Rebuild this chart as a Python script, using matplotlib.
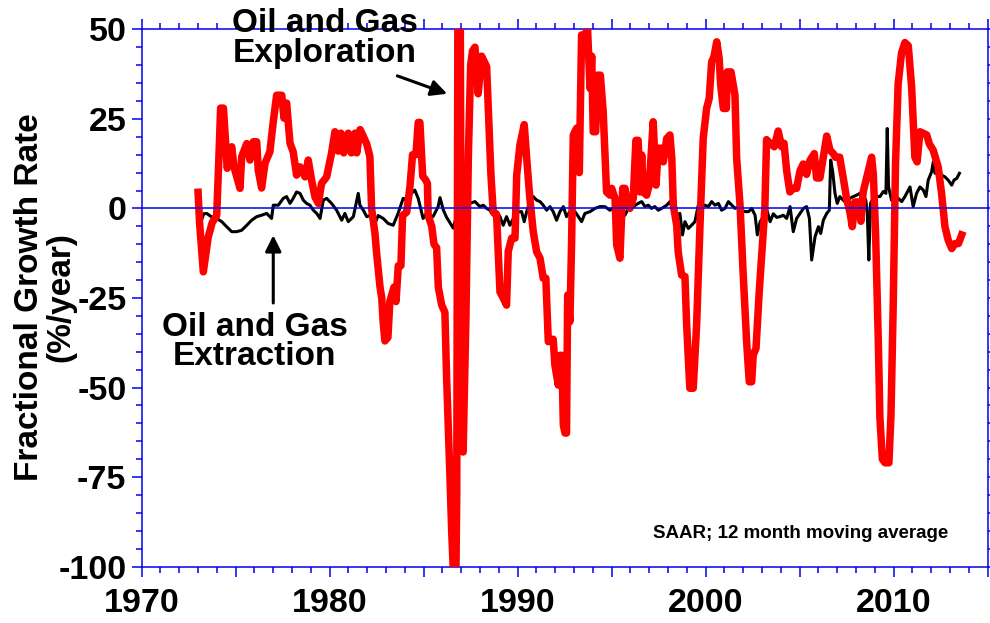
import matplotlib
matplotlib.use("Agg")
import matplotlib.pyplot as plt
from matplotlib.ticker import MultipleLocator, FuncFormatter

plt.rcParams.update({
    "font.family": ["Liberation Sans", "DejaVu Sans"],
    "font.weight": "bold",
    "axes.unicode_minus": False,
})

# Oil and gas exploration (red), 12-month moving average, %/year
expl_years = [
    1973.0, 1973.08, 1973.28, 1973.54, 1973.75, 1973.99, 1974.1, 1974.2, 1974.35,
    1974.55, 1974.79, 1974.91, 1975.23, 1975.32, 1975.59, 1975.76, 1975.94, 1976.12,
    1976.2, 1976.38, 1976.56, 1976.82, 1977.0, 1977.18, 1977.45, 1977.57, 1977.71,
    1977.89, 1978.06, 1978.24, 1978.42, 1978.69, 1978.86, 1979.04, 1979.22, 1979.4,
    1979.57, 1979.84, 1980.1, 1980.28, 1980.46, 1980.6, 1980.75, 1980.99, 1981.15,
    1981.35, 1981.44, 1981.62, 1981.8, 1981.97, 1982.14, 1982.23, 1982.41, 1982.5,
    1982.68, 1982.77, 1982.85, 1982.94, 1983.1, 1983.2, 1983.42, 1983.53, 1983.65,
    1983.79, 1983.88, 1984.1, 1984.27, 1984.41, 1984.59, 1984.71, 1984.8, 1984.95,
    1985.1, 1985.2, 1985.24, 1985.43, 1985.55, 1985.69, 1985.78, 1985.96, 1986.13,
    1986.22, 1986.4, 1986.49, 1986.57, 1986.72, 1986.76, 1986.82, 1986.95, 1987.02,
    1987.1, 1987.25, 1987.38, 1987.5, 1987.6, 1987.73, 1987.9, 1988.08, 1988.35,
    1988.44, 1988.58, 1988.7, 1988.88, 1989.06, 1989.23, 1989.41, 1989.5, 1989.68,
    1989.86, 1989.95, 1990.12, 1990.35, 1990.48, 1990.65, 1990.83, 1991.01, 1991.19,
    1991.36, 1991.5, 1991.63, 1991.89, 1991.98, 1992.16, 1992.25, 1992.35, 1992.43,
    1992.52, 1992.6, 1992.66, 1992.78, 1992.87, 1992.96, 1993.14, 1993.28, 1993.4,
    1993.56, 1993.72, 1993.85, 1993.94, 1994.02, 1994.15, 1994.26, 1994.4, 1994.55,
    1994.73, 1994.91, 1995.0, 1995.18, 1995.27, 1995.44, 1995.59, 1995.71, 1995.83,
    1995.97, 1996.15, 1996.29, 1996.41, 1996.5, 1996.6, 1996.68, 1996.86, 1997.0,
    1997.21, 1997.36, 1997.48, 1997.66, 1997.75, 1997.93, 1998.1, 1998.2, 1998.28,
    1998.46, 1998.54, 1998.72, 1998.9, 1998.99, 1999.16, 1999.34, 1999.52, 1999.7,
    1999.87, 2000.05, 2000.19, 2000.32, 2000.44, 2000.59, 2000.72, 2000.8, 2000.94,
    2001.1, 2001.15, 2001.35, 2001.56, 2001.65, 2001.83, 2002.0, 2002.18, 2002.32,
    2002.45, 2002.53, 2002.68, 2002.85, 2003.03, 2003.15, 2003.24, 2003.42, 2003.65,
    2003.86, 2004.04, 2004.17, 2004.31, 2004.48, 2004.66, 2004.84, 2005.02, 2005.19,
    2005.37, 2005.55, 2005.78, 2005.9, 2006.08, 2006.2, 2006.44, 2006.61, 2006.79,
    2006.9, 2007.13, 2007.32, 2007.5, 2007.68, 2007.8, 2007.94, 2008.1, 2008.26,
    2008.38, 2008.56, 2008.83, 2008.92, 2009.04, 2009.18, 2009.27, 2009.4, 2009.54,
    2009.75, 2009.86, 2009.98, 2010.1, 2010.24, 2010.42, 2010.6, 2010.78, 2010.96,
    2011.13, 2011.25, 2011.4, 2011.76, 2011.9, 2012.1, 2012.37, 2012.55, 2012.73,
    2012.9, 2013.09, 2013.27, 2013.45, 2013.62,
]
expl_vals = [
    4.5, -4, -17.7, -8, -4, -2, 13, 28, 28,
    11.2, 17.2, 11.6, 5.6, 14.4, 18.1, 13.5, 18.6, 18.6,
    10.7, 5.7, 12.6, 15.8, 24.2, 31.6, 31.6, 25.2, 29.4,
    18.2, 15.8, 9.3, 11.6, 8.8, 13.5, 7.9, 3.2, 1.4,
    7, 8.8, 15.4, 21.4, 16, 21, 15.5, 21, 15.5,
    21, 15.5, 22, 20, 18, 14.5, 0, -7, -12.6,
    -22, -25, -32, -37, -36, -26, -22, -26, -16,
    -16, -2, -1, 6, 15, 15, 24, 24, 9,
    8, 7, -2, -5, -10, -11, -22, -27, -29,
    -47, -75, -90, -100, -100, -80, 52, 52, -65,
    -68, -30, 15, 40, 44, 45, 32, 42.5, 39.6,
    28, 9.3, -1, -1.7, -23.3, -25, -27, -12, -8.3,
    -8.3, 9.3, 17.7, 23.4, 14, 2.8, -6.5, -12.1, -13.9,
    -19.5, -19.5, -37.2, -36.5, -43.7, -49.3, -41, -41, -60.5,
    -62.7, -62.7, -24.2, -31.6, -9.3, 20.5, 22.4, 10, 48.4,
    48.4, 50, 33.5, 42.5, 21.4, 21.4, 37.2, 37.2, 27,
    4.6, 3.7, 5.6, 2.8, -10.2, -13.9, 5.6, 5.6, 1.9,
    0, 2.8, 19, 19, 4.6, 14.9, 4.6, 3.7, 6.5,
    24.2, 6.5, 16.8, 16.8, 13, 19.5, 20.5, 14, 0.9,
    -4.7, -12.1, -18.6, -19, -32.6, -50.2, -50.2, -32.6, -4.7,
    19.5, 27.9, 30.7, 40.9, 42.3, 46.5, 41.9, 34.4, 27.9,
    27.9, 38.1, 38.1, 31.6, 14, 0.9, -18.6, -37.2, -48.4,
    -48.4, -41, -39, -23.3, -9.3, 0, 19.2, 18.2, 17.2,
    21.6, 17.2, 18.2, 10.5, 4.6, 5.6, 5.6, 10.5, 12.4,
    9.5, 13.4, 15.3, 8.5, 8.5, 12.4, 20.2, 16.3, 15.3,
    14.3, 14.3, 8.5, 2.7, -1.2, -5.1, 1.8, 1.8, -3.6,
    4.6, 8.5, 14.3, 9.5, -7, -36, -58.4, -70, -71,
    -71, -57.4, -26.4, 12.4, 34.7, 43.4, 46.3, 45.4, 33.7,
    14.3, 13, 21.4, 20.5, 18, 16.3, 11.6, 4.2, -5.1,
    -8.8, -11.2, -9.8, -9.8, -7.4,
]

# Oil and gas extraction (black)
extr_years = [
    1973.2, 1973.3, 1973.46, 1973.7, 1973.99, 1974.26, 1974.52, 1974.79, 1975.05,
    1975.32, 1975.59, 1975.85, 1976.12, 1976.38, 1976.65, 1976.91, 1977.0, 1977.27,
    1977.53, 1977.71, 1977.89, 1978.06, 1978.24, 1978.42, 1978.6, 1978.77, 1978.95,
    1979.13, 1979.31, 1979.49, 1979.66, 1979.84, 1980.1, 1980.37, 1980.64, 1980.81,
    1980.99, 1981.26, 1981.52, 1981.61, 1981.79, 1981.97, 1982.14, 1982.41, 1982.58,
    1982.85, 1983.11, 1983.38, 1983.64, 1983.91, 1984.09, 1984.35, 1984.53, 1984.71,
    1984.97, 1985.15, 1985.33, 1985.5, 1985.77, 1985.87, 1986.05, 1986.22, 1986.4,
    1986.57, 1986.7, 1986.83, 1987.0, 1987.29, 1987.5, 1987.73, 1987.99, 1988.17,
    1988.35, 1988.53, 1988.7, 1988.88, 1989.06, 1989.23, 1989.41, 1989.59, 1989.77,
    1989.95, 1990.21, 1990.35, 1990.48, 1990.65, 1990.83, 1991.01, 1991.19, 1991.36,
    1991.54, 1991.72, 1991.89, 1992.07, 1992.25, 1992.43, 1992.6, 1992.78, 1993.05,
    1993.23, 1993.4, 1993.58, 1993.85, 1994.11, 1994.38, 1994.64, 1994.91, 1995.18,
    1995.44, 1995.71, 1995.88, 1996.15, 1996.41, 1996.6, 1996.77, 1996.95, 1997.12,
    1997.3, 1997.48, 1997.66, 1997.93, 1998.1, 1998.28, 1998.46, 1998.63, 1998.77,
    1998.9, 1999.08, 1999.25, 1999.43, 1999.61, 1999.79, 1999.97, 2000.14, 2000.32,
    2000.5, 2000.68, 2000.85, 2001.03, 2001.21, 2001.39, 2001.56, 2001.74, 2001.92,
    2002.1, 2002.28, 2002.45, 2002.63, 2002.75, 2002.9, 2003.08, 2003.26, 2003.43,
    2003.6, 2003.78, 2003.95, 2004.13, 2004.31, 2004.49, 2004.66, 2004.84, 2005.02,
    2005.2, 2005.37, 2005.52, 2005.64, 2005.82, 2006.0, 2006.12, 2006.26, 2006.44,
    2006.58, 2006.65, 2006.76, 2006.88, 2007.0, 2007.14, 2007.32, 2007.5, 2007.67,
    2007.85, 2008.03, 2008.2, 2008.38, 2008.52, 2008.6, 2008.68, 2008.77, 2008.91,
    2009.09, 2009.27, 2009.45, 2009.59, 2009.66, 2009.73, 2009.89, 2010.07, 2010.25,
    2010.43, 2010.6, 2010.87, 2011.04, 2011.22, 2011.4, 2011.58, 2011.72, 2011.84,
    2012.02, 2012.11, 2012.2, 2012.37, 2012.55, 2012.73, 2012.9, 2013.09, 2013.21,
    2013.36, 2013.5,
]
extr_vals = [
    -3, -1.5, -1.4, -2.3, -2.8, -3.7, -5.1, -6.5, -6.5,
    -6.1, -4.7, -3.3, -2.3, -1.9, -1.4, -2.8, 0.9, 0.9,
    2.8, 3.3, 1.4, 2.8, 4.6, 4.2, 2.3, 1.4, 0.9,
    -0.5, -1.4, -2.8, 2.3, 2.8, 1.4, -0.5, -3.3, -1.4,
    -3.7, -2.3, 4.2, 0.9, -0.5, -2.3, -2, -4.2, -2,
    -2.8, -4.2, -4.7, -1.4, 2.8, 2.3, 4.2, 5.1, 2.8,
    -2.8, -1.4, -1.9, -2.3, 0.5, 3, -0.5, -2.5, -4,
    -5.5, -3, -1.5, 0.5, 1, 1.5, 1.9, 0.5, 0.9,
    0, -0.5, -1.9, -0.9, -2.3, -4.7, -2.3, -4.7, -2.8,
    -0.9, -0.9, -3.7, -0.9, 1.9, 3.3, 2.3, 1.9, 0.9,
    -0.5, 0.5, -0.9, -3.3, -0.9, 0.5, -2.3, -0.9, -0.9,
    -2.3, -3.7, -1.4, -0.9, 0, 0.5, 0.5, -0.5, 0.5,
    -0.9, -1.9, 0, 0.5, 1.4, 1.9, 0.5, 0.9, 0,
    0.5, -0.5, 0, 0.9, 1.9, -0.5, -1.9, -1.4, -7.4,
    -3.7, -5.6, -4.7, -3.7, 0.9, 0.5, 0.9, 0.5, 1.9,
    0.9, 1.4, -0.5, 0, 1.9, 0.9, 0, 0.5, -0.5,
    -0.9, -0.9, 0, -1.9, -7.4, -3.7, -2.3, -0.5, -3.7,
    -1.5, -2.5, -2.3, -1.9, -2.8, 0.5, -6.5, -2.8, -1.4,
    0, 0.5, -2.8, -14.4, -7.9, -5.1, -7, -3.3, -1.4,
    -0.5, 13.5, 10.2, 4.2, 1.4, 3.3, 2.3, 1.4, 2.8,
    3.3, 3.7, 4.2, 3.3, 2.3, -1.4, -14.4, 1.4, 2.8,
    3.3, 3.3, 4.7, 4.2, 22.3, 6, 2.3, 1.9, 2.8,
    1.9, 3.3, 6, 0.5, 4.2, 6, 5.1, 3.3, 7.9,
    10.2, 13, 9.8, 10.7, 9.3, 8.8, 7.9, 6.5, 7.9,
    8.4, 9.8,
]

BLUE = "#0000ee"

fig = plt.figure(figsize=(9.9, 6.23), dpi=100)
ax = fig.add_axes([0.1431, 0.0904, 0.8545, 0.8626])

ax.plot(extr_years, extr_vals, color="black", lw=2.2, zorder=3)
ax.plot(expl_years, expl_vals, color="#ff0000", lw=5.4, zorder=4)
ax.axhline(0, color=BLUE, lw=1.1, zorder=5)

ax.set_xlim(1970, 2015)
ax.set_ylim(-100, 50)

# major ticks every 5 years, labels only on the decades
ax.xaxis.set_major_locator(MultipleLocator(5))
ax.xaxis.set_minor_locator(MultipleLocator(1))
ax.xaxis.set_major_formatter(FuncFormatter(
    lambda v, p: f"{int(round(v))}" if int(round(v)) % 10 == 0 else ""))
ax.yaxis.set_major_locator(MultipleLocator(25))
ax.yaxis.set_minor_locator(MultipleLocator(5))

for s in ax.spines.values():
    s.set_color(BLUE)
    s.set_linewidth(1.1)

ax.tick_params(which="both", direction="out", color=BLUE, width=1.1,
               top=True, right=True, labelsize=24.5)
ax.tick_params(which="major", length=7)
ax.tick_params(which="minor", length=4)
ax.tick_params(axis="x", pad=8)
ax.tick_params(axis="y", pad=4)

fig.text(45 / 990, 1 - 297 / 623, "Fractional Growth Rate\n(%/year)",
         rotation=90, ha="center", va="center", fontsize=24,
         fontweight="bold", linespacing=1.0, multialignment="center")

ax.text(1979.75, 47.5, "Oil and Gas\nExploration", ha="center", va="center",
        fontsize=24, fontweight="bold", linespacing=0.95, clip_on=False)
ax.annotate("", xy=(1986.25, 32), xytext=(1983.6, 37),
            arrowprops=dict(arrowstyle="-|>", color="black", lw=2.2,
                            mutation_scale=24, shrinkA=0, shrinkB=0))

ax.text(1976.0, -37.3, "Oil and Gas\nExtraction", ha="center", va="center",
        fontsize=24, fontweight="bold", linespacing=0.95)
ax.annotate("", xy=(1977.0, -7.5), xytext=(1977.0, -26.4),
            arrowprops=dict(arrowstyle="-|>", color="black", lw=2.2,
                            mutation_scale=24, shrinkA=0, shrinkB=0))

ax.text(0.953, 0.061, "SAAR; 12 month moving average", transform=ax.transAxes,
        ha="right", va="center", fontsize=13.5, fontweight="bold")

fig.savefig("out.png", dpi=100)
